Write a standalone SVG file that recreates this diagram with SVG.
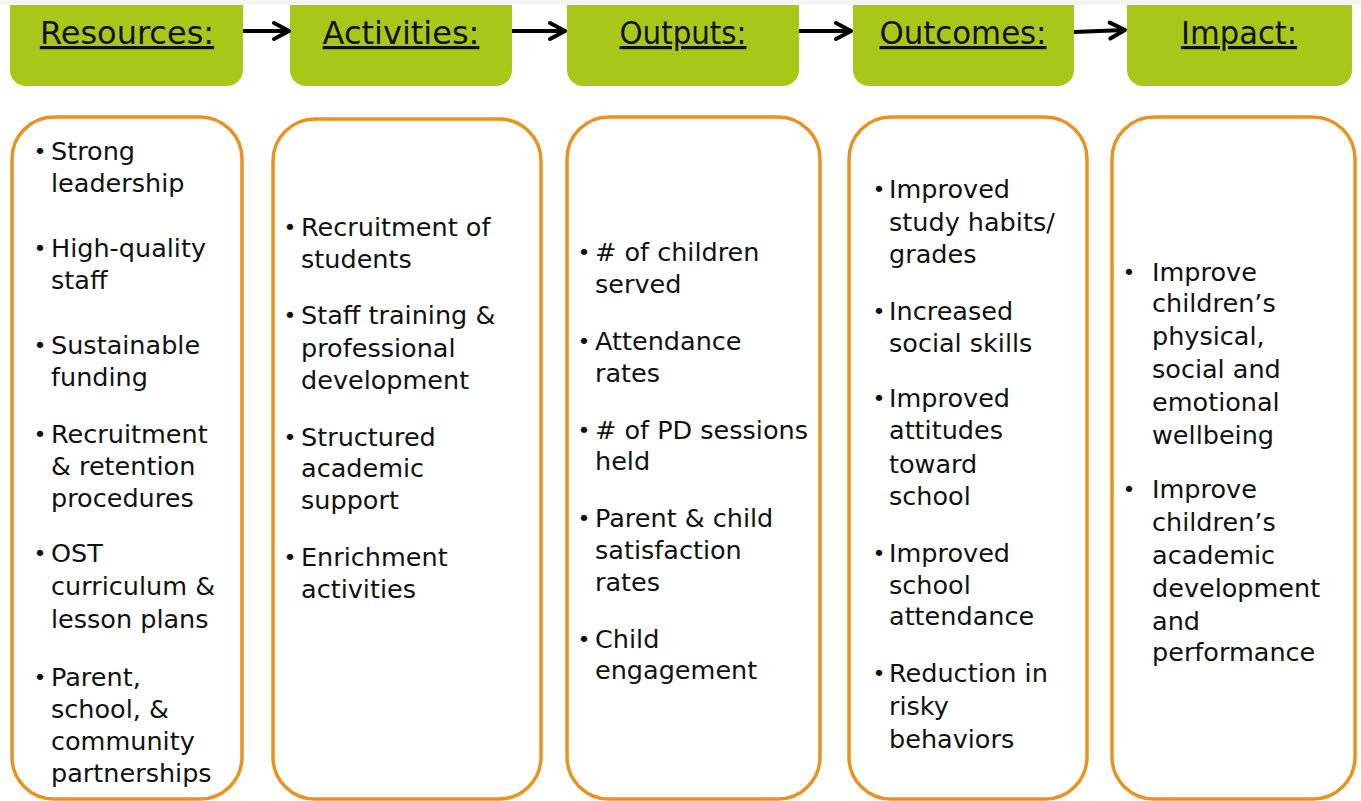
<svg xmlns="http://www.w3.org/2000/svg" width="1361" height="801" viewBox="0 0 1361 801">
<style>
.hd{fill:#A9C719}
.bx{fill:#fff;stroke:#E9921F;stroke-width:3.5}
.ht{font-family:"DejaVu Sans",sans-serif;font-size:32px;fill:#111;text-anchor:middle;text-decoration:underline}
.t{font-family:"DejaVu Sans",sans-serif;font-size:25.5px;fill:#111}
.b{font-family:"DejaVu Sans",sans-serif;font-size:22px;fill:#111;text-anchor:middle}
.cn{stroke:#000;stroke-width:4;fill:none}
</style>
<defs>
<marker id="ah" markerUnits="userSpaceOnUse" markerWidth="26" markerHeight="26" viewBox="-20 -13 26 26" refX="0" refY="0" orient="auto">
<path d="M-15,-8 L0,0 L-15,8" fill="none" stroke="#000" stroke-width="4" stroke-linecap="round" stroke-linejoin="round"/>
</marker>
</defs>
<rect x="0" y="0" width="1361" height="801" fill="#fff"/>

<g id="h-resources"><rect class="hd" x="10" y="-20" width="233" height="106" rx="16"/><text class="ht" x="127" y="44">Resources:</text></g>
<g id="h-activities"><rect class="hd" x="290" y="-20" width="222" height="106" rx="16"/><text class="ht" x="401" y="44">Activities:</text></g>
<g id="h-outputs"><rect class="hd" x="567" y="-20" width="232" height="106" rx="16"/><text class="ht" x="683" y="44" textLength="127" lengthAdjust="spacingAndGlyphs">Outputs:</text></g>
<g id="h-outcomes"><rect class="hd" x="853" y="-20" width="221" height="106" rx="16"/><text class="ht" x="963" y="44" textLength="167" lengthAdjust="spacingAndGlyphs">Outcomes:</text></g>
<g id="h-impact"><rect class="hd" x="1127" y="-20" width="225" height="106" rx="16"/><text class="ht" x="1239" y="44" textLength="116" lengthAdjust="spacingAndGlyphs">Impact:</text></g>
<rect x="0" y="0" width="1361" height="5" fill="#f5f5f5"/>

<g id="connectors">
<line class="cn" x1="243" y1="31" x2="289" y2="31" marker-end="url(#ah)"/>
<line class="cn" x1="512" y1="31" x2="565" y2="31" marker-end="url(#ah)"/>
<line class="cn" x1="799" y1="31" x2="851" y2="31" marker-end="url(#ah)"/>
<line class="cn" x1="1074" y1="32" x2="1125" y2="30" marker-end="url(#ah)"/>
</g>

<g id="resources">
<rect class="bx" x="12" y="117" width="230" height="682" rx="42"/>
<text class="b" x="40" y="159">•</text><text class="t" x="51" y="160">Strong<tspan x="51" y="192">leadership</tspan></text>
<text class="b" x="40" y="256">•</text><text class="t" x="51" y="257">High-quality<tspan x="51" y="289">staff</tspan></text>
<text class="b" x="40" y="353">•</text><text class="t" x="51" y="354">Sustainable<tspan x="51" y="386">funding</tspan></text>
<text class="b" x="40" y="442">•</text><text class="t" x="51" y="443">Recruitment<tspan x="51" y="475">&amp; retention</tspan><tspan x="51" y="507">procedures</tspan></text>
<text class="b" x="40" y="561">•</text><text class="t" x="51" y="562">OST<tspan x="51" y="595">curriculum &amp;</tspan><tspan x="51" y="628">lesson plans</tspan></text>
<text class="b" x="40" y="685">•</text><text class="t" x="51" y="686">Parent,<tspan x="51" y="718">school, &amp;</tspan><tspan x="51" y="750">community</tspan><tspan x="51" y="782">partnerships</tspan></text>
</g>

<g id="activities">
<rect class="bx" x="273" y="119" width="268" height="680" rx="42"/>
<text class="b" x="290" y="235">•</text><text class="t" x="301" y="236">Recruitment of<tspan x="301" y="268">students</tspan></text>
<text class="b" x="290" y="323">•</text><text class="t" x="301" y="324">Staff training &amp;<tspan x="301" y="357">professional</tspan><tspan x="301" y="389">development</tspan></text>
<text class="b" x="290" y="445">•</text><text class="t" x="301" y="446">Structured<tspan x="301" y="477">academic</tspan><tspan x="301" y="509">support</tspan></text>
<text class="b" x="290" y="565">•</text><text class="t" x="301" y="566">Enrichment<tspan x="301" y="598">activities</tspan></text>
</g>

<g id="outputs">
<rect class="bx" x="567" y="117" width="253" height="682" rx="42"/>
<text class="b" x="584" y="260">•</text><text class="t" x="595" y="261"># of children<tspan x="595" y="293">served</tspan></text>
<text class="b" x="584" y="349">•</text><text class="t" x="595" y="350">Attendance<tspan x="595" y="382">rates</tspan></text>
<text class="b" x="584" y="438">•</text><text class="t" x="595" y="439"># of PD sessions<tspan x="595" y="470">held</tspan></text>
<text class="b" x="584" y="526">•</text><text class="t" x="595" y="527">Parent &amp; child<tspan x="595" y="559">satisfaction</tspan><tspan x="595" y="591">rates</tspan></text>
<text class="b" x="584" y="647">•</text><text class="t" x="595" y="648">Child<tspan x="595" y="679">engagement</tspan></text>
</g>

<g id="outcomes">
<rect class="bx" x="849" y="117" width="238" height="682" rx="42"/>
<text class="b" x="879" y="197">•</text><text class="t" x="889" y="198">Improved<tspan x="889" y="231">study habits/</tspan><tspan x="889" y="263">grades</tspan></text>
<text class="b" x="879" y="319">•</text><text class="t" x="889" y="320">Increased<tspan x="889" y="352">social skills</tspan></text>
<text class="b" x="879" y="406">•</text><text class="t" x="889" y="407">Improved<tspan x="889" y="439">attitudes</tspan><tspan x="889" y="473">toward</tspan><tspan x="889" y="505">school</tspan></text>
<text class="b" x="879" y="561">•</text><text class="t" x="889" y="562">Improved<tspan x="889" y="594">school</tspan><tspan x="889" y="625">attendance</tspan></text>
<text class="b" x="879" y="681">•</text><text class="t" x="889" y="682">Reduction in<tspan x="889" y="715">risky</tspan><tspan x="889" y="748">behaviors</tspan></text>
</g>

<g id="impact">
<rect class="bx" x="1112" y="117" width="243" height="682" rx="42"/>
<text class="b" x="1129" y="280">•</text><text class="t" x="1152" y="281">Improve<tspan x="1152" y="312">children’s</tspan><tspan x="1152" y="345">physical,</tspan><tspan x="1152" y="378">social and</tspan><tspan x="1152" y="411">emotional</tspan><tspan x="1152" y="444">wellbeing</tspan></text>
<text class="b" x="1129" y="497">•</text><text class="t" x="1152" y="498">Improve<tspan x="1152" y="531">children’s</tspan><tspan x="1152" y="564">academic</tspan><tspan x="1152" y="597">development</tspan><tspan x="1152" y="630">and</tspan><tspan x="1152" y="661">performance</tspan></text>
</g>
</svg>
